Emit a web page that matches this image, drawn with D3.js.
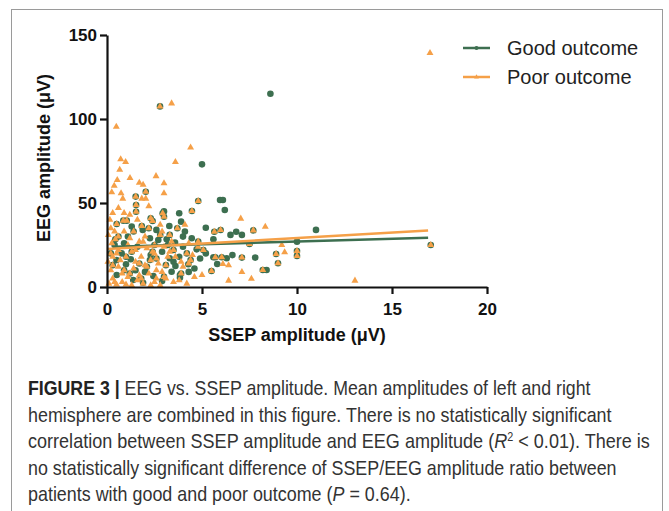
<!DOCTYPE html>
<html>
<head>
<meta charset="utf-8">
<script src="https://cdn.jsdelivr.net/npm/d3@7"></script>
<style>
  body { margin: 0; background: #fff; }
  svg { display: block; }
  .arial { font-family: "Liberation Sans", Arial, Helvetica, sans-serif; }
  .narrow { font-family: "Liberation Sans Narrow", "Arial Narrow", "Liberation Sans", Arial, sans-serif; }
</style>
</head>
<body>
<div id="chart"></div>
<script>
// axis ticks
var xTicks = [0, 5, 10, 15, 20];
var yTicks = [0, 50, 100, 150];

// points seen as both a green circle and an orange triangle
var sharedPoints = [
  [2.79, 107.5], [1.51, 53.8], [2.04, 56.7], [1.53, 48.8], [1.53, 44.8], [4.8, 51.2],
  [4.47, 45.2], [2.93, 43.9], [3.0, 41.8], [2.3, 40.9], [2.4, 39.3], [1.83, 36.3],
  [0.86, 39.5], [1.04, 39.5], [0.51, 37.5], [5.65, 32.9], [5.98, 33.9], [7.7, 33.7],
  [7.5, 25.6], [10.0, 21.4], [10.0, 18.5], [5.07, 22], [6.04, 17.7], [5.7, 17.7],
  [7.1, 17.5], [8.9, 19.6], [9.0, 14.1], [8.2, 10.1], [5.5, 9.5], [17.04, 25],
  [0.44, 28.4], [1.3, 21], [2.5, 25], [3.3, 31], [4.2, 20], [0.9, 10], [2.1, 12], [3.0, 6],
  [0.2, 20], [0.6, 30], [1.0, 18], [1.4, 33], [1.7, 14], [2.2, 35], [2.6, 17], [3.1, 13],
  [3.5, 22], [3.9, 8], [4.4, 16], [4.8, 27], [0.3, 13], [1.8, 5], [2.4, 21], [3.7, 35],
  [1.2, 8], [2.8, 31]
];

// good outcome only (green circles)
var goodPoints = [
  [8.6, 115], [5.0, 73], [5.95, 51.8], [6.1, 51.8], [6.2, 45.8], [3.8, 43.9], [3.9, 38.9],
  [3.28, 36.3], [1.88, 33.9], [5.2, 35.3], [5.6, 28.4], [6.5, 31], [6.8, 32.9], [7.1, 31],
  [11.0, 34], [10.0, 27], [5.2, 20], [5.6, 17.7], [6.3, 17.1], [6.6, 19], [7.8, 17.5],
  [5.8, 13.7], [8.4, 10.1], [2.26, 29], [2.7, 28], [3.14, 28.4], [3.58, 26.4], [4.0, 30],
  [4.46, 29], [4.72, 22.4], [0.77, 20], [1.25, 16.5], [2.26, 16.1], [3.3, 17.1], [3.8, 18],
  [3.4, 9.1], [3.84, 7.1], [3.84, 5.5], [4.28, 13.5], [2.44, 6.5], [1.0, 13.5], [0.51, 7.1],
  [1.38, 4.2], [2.9, 21], [1.6, 24], [4.9, 17], [3.6, 12.5], [2.0, 9], [0.4, 25], [1.9, 2.5],
  [2.9, 3.5], [4.6, 11], [1.1, 30], [3.0, 45], [4.1, 33],
  [0.9, 26], [1.5, 10], [2.3, 19], [3.2, 25], [4.3, 9], [2.6, 34], [1.3, 36], [0.5, 16],
  [4.0, 24], [3.5, 15]
];

// poor outcome only (orange triangles)
var poorPoints = [
  [17.0, 139.3], [3.4, 109.3], [0.49, 95.4], [4.4, 83], [0.72, 76], [0.98, 74.4], [3.6, 74.4],
  [0.67, 69.8], [0.54, 63.7], [1.21, 64.9], [1.7, 62.1], [1.9, 60.9], [0.38, 60.3], [0.25, 56.4],
  [2.58, 66], [3.0, 61.7], [3.0, 55.8], [0.74, 55.8], [0.83, 52.6], [1.83, 52.6], [2.04, 52.6],
  [7.04, 40.7], [8.33, 35.9], [9.2, 25], [9.35, 20.7], [6.1, 13.7], [6.4, 12.9], [7.1, 8.9],
  [7.6, 4.9], [6.4, 3.8], [5.0, 7.1], [13.05, 3.8], [0.07, 31], [0.25, 26],
  [0.1, 2], [0.3, 5], [0.5, 1.5], [0.8, 3], [1.1, 6], [1.3, 1], [1.6, 4], [1.9, 2], [2.2, 8],
  [2.5, 3], [2.8, 1], [3.1, 5], [0.2, 10], [0.6, 12], [1.4, 11], [2.0, 13], [2.6, 10], [3.5, 3],
  [4.2, 2], [1.1, 25], [1.5, 22], [2.0, 30], [2.5, 20], [3.0, 24], [3.6, 18], [4.0, 12],
  [4.6, 6], [0.9, 33], [1.7, 27], [2.9, 33], [3.3, 21], [4.3, 26], [0.3, 18], [0.6, 22],
  [1.2, 29], [2.1, 23], [2.7, 14], [3.9, 15], [4.5, 19], [0.15, 40], [0.3, 44], [0.05, 15],
  [0.7, 16], [1.0, 1.5], [1.8, 18], [2.3, 1], [0.4, 33], [2.8, 37], [1.2, 43],
  [0.2, 35], [0.5, 20], [0.8, 8], [1.5, 15], [1.9, 27], [2.3, 16], [2.9, 9], [3.4, 27],
  [3.8, 4], [4.3, 14], [4.8, 24], [0.4, 3], [1.7, 7], [2.6, 5], [3.2, 18], [4.1, 37],
  [0.6, 47], [1.6, 40], [2.2, 48], [0.9, 44]
];

// linear fit end points
var goodFit = [[0.45, 24.0], [16.9, 29.3]];
var poorFit = [[0.0, 22.6], [16.9, 33.7]];

var seriesNames = ["Good outcome", "Poor outcome"];
var green = "#3d6f50", orange = "#f5a048";

var W = 669, H = 511;
var svg = d3.select("#chart").append("svg")
    .attr("width", W)
    .attr("height", H);

// figure frame
svg.append("rect")
    .attr("x", 11.5).attr("y", 9.5)
    .attr("width", 651).attr("height", 520)
    .attr("fill", "#fff")
    .attr("stroke", "#9a9a9a");

var x = d3.scaleLinear().domain([0, 20]).range([107, 487]);
var y = d3.scaleLinear().domain([0, 150]).range([287, 35]);

// points
var allGood = goodPoints.concat(sharedPoints);
var allPoor = poorPoints.concat(sharedPoints);

svg.append("g").selectAll("circle")
    .data(allGood)
    .enter()
    .append("circle")
    .attr("cx", function(d) { return x(d[0]); })
    .attr("cy", function(d) { return y(d[1]); })
    .attr("r", 3.3)
    .attr("fill", green);

var tri = d3.symbol().type(d3.symbolTriangle).size(21);
svg.append("g").selectAll("path")
    .data(allPoor)
    .enter()
    .append("path")
    .attr("d", tri)
    .attr("transform", function(d) { return "translate(" + x(d[0]) + "," + y(d[1]) + ")"; })
    .attr("fill", orange);

// fit lines
var line = d3.line()
    .x(function(d) { return x(d[0]); })
    .y(function(d) { return y(d[1]); });
svg.append("path").datum(goodFit).attr("d", line)
    .attr("stroke", green).attr("stroke-width", 2.5).attr("fill", "none");
svg.append("path").datum(poorFit).attr("d", line)
    .attr("stroke", orange).attr("stroke-width", 2.5).attr("fill", "none");

// axes
var xAxis = svg.append("g")
    .attr("transform", "translate(0,287)")
    .call(d3.axisBottom(x).tickValues(xTicks).tickSize(7).tickSizeOuter(0).tickPadding(9));
var yAxis = svg.append("g")
    .attr("transform", "translate(107,0)")
    .call(d3.axisLeft(y).tickValues(yTicks).tickSize(7).tickSizeOuter(0).tickPadding(3));

[xAxis, yAxis].forEach(function(a) {
    a.attr("font-family", null).attr("font-size", null);
    a.selectAll("path, line").attr("stroke", "#111").attr("stroke-width", 2.2);
    a.selectAll("text")
        .attr("class", "arial")
        .attr("fill", "#111")
        .style("font-weight", "bold")
        .style("font-size", "17px");
});

// axis titles
svg.append("text")
    .attr("class", "arial")
    .attr("x", 297).attr("y", 341)
    .attr("text-anchor", "middle")
    .style("font-weight", "bold")
    .style("font-size", "18px")
    .attr("fill", "#111")
    .text("SSEP amplitude (\u03bcV)");

svg.append("text")
    .attr("class", "arial")
    .attr("transform", "translate(50,158)rotate(-90)")
    .attr("text-anchor", "middle")
    .style("font-weight", "bold")
    .style("font-size", "18px")
    .attr("fill", "#111")
    .text("EEG amplitude (\u03bcV)");

// legend
var legend = svg.append("g");
seriesNames.forEach(function(name, i) {
    var ly = 48 + i * 29;
    var col = i === 0 ? green : orange;
    legend.append("line")
        .attr("x1", 463).attr("x2", 490)
        .attr("y1", ly).attr("y2", ly)
        .attr("stroke", col).attr("stroke-width", 2.5);
    if (i === 0) {
        legend.append("circle").attr("cx", 476.5).attr("cy", ly).attr("r", 2).attr("fill", col);
    } else {
        legend.append("path").attr("d", d3.symbol().type(d3.symbolTriangle).size(10))
            .attr("transform", "translate(476.5," + ly + ")").attr("fill", col);
    }
    legend.append("text")
        .attr("class", "arial")
        .attr("x", 507).attr("y", ly + 7)
        .style("font-size", "20px")
        .attr("fill", "#222")
        .text(name);
});

// caption
var capLines = [
    { end: 591, parts: [["FIGURE 3 | ", "b"], ["EEG vs. SSEP amplitude. Mean amplitudes of left and right", ""]] },
    { end: 612, parts: [["hemisphere are combined in this figure. There is no statistically significant", ""]] },
    { end: 650, parts: [["correlation between SSEP amplitude and EEG amplitude (", ""], ["R", "i"], ["2", "sup"], [" < 0.01). There is", "down"]] },
    { end: 617, parts: [["no statistically significant difference of SSEP/EEG amplitude ratio between", ""]] },
    { end: 411, parts: [["patients with good and poor outcome (", ""], ["P", "i"], [" = 0.64).", ""]] }
];

capLines.forEach(function(cl, i) {
    var by = 395 + i * 26.6;
    var g = svg.append("g");
    var t = g.append("text")
        .attr("class", "narrow")
        .attr("x", 0).attr("y", 0)
        .style("font-size", "20px")
        .attr("fill", "#333");
    cl.parts.forEach(function(p) {
        var s = t.append("tspan").text(p[0]);
        if (p[1] === "b") s.style("font-weight", "bold").attr("fill", "#222");
        if (p[1] === "i") s.style("font-style", "italic");
        if (p[1] === "sup") s.style("font-size", "12px").attr("dy", -7);
        if (p[1] === "down") s.attr("dy", 7);
    });
    var w = t.node().getComputedTextLength();
    var sx = (cl.end - 28) / w;
    g.attr("transform", "translate(28," + by + ") scale(" + sx + ",1)");
});
</script>
</body>
</html>
